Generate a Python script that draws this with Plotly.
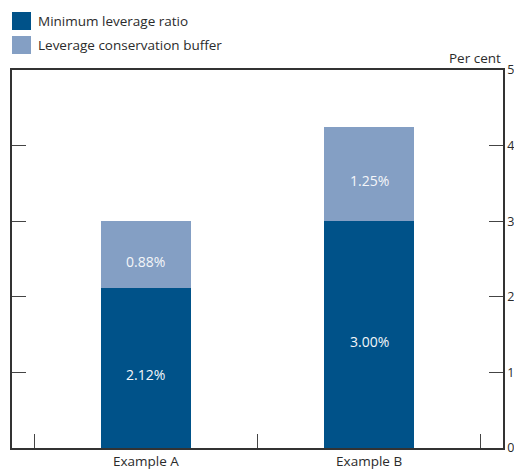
import plotly.graph_objects as go

categories = ["Example A", "Example B"]
minimum_ratio = [2.12, 3.00]
conservation_buffer = [0.88, 1.25]
series_names = ["Minimum leverage ratio", "Leverage conservation buffer"]
y_ticks = [0, 1, 2, 3, 4, 5]

DARK = "#005289"
LIGHT = "#849FC4"
FONT = "Open Sans, Noto Sans, sans-serif"
TXT = "#2b2b2b"

PW, PH = 491, 378  # plot area size in px

fig = go.Figure()
fig.add_trace(go.Bar(x=categories, y=minimum_ratio, name=series_names[0],
                     marker=dict(color=DARK, line=dict(width=0)), width=0.4))
fig.add_trace(go.Bar(x=categories, y=conservation_buffer, name=series_names[1],
                     marker=dict(color=LIGHT, line=dict(width=0)), width=0.4))

# value labels
for c, a, b in zip(categories, minimum_ratio, conservation_buffer):
    fig.add_annotation(x=c, y=a / 2, text=f"{a:.2f}%", showarrow=False, yshift=-7,
                       font=dict(color="#f4f6f9", size=14, family=FONT), xref="x", yref="y")
    fig.add_annotation(x=c, y=a + b / 2, text=f"{b:.2f}%", showarrow=False, yshift=-7,
                       font=dict(color="#f4f6f9", size=14, family=FONT), xref="x", yref="y")

# custom legend
for i, (name, col) in enumerate(zip(series_names, [DARK, LIGHT])):
    y0 = 12 + i * 24
    fig.add_shape(type="rect", xref="paper", yref="paper",
                  x0=0, x1=19 / PW, y0=1 + (70 - y0) / PH, y1=1 + (70 - y0 - 18) / PH,
                  fillcolor=col, line=dict(width=0))
    fig.add_annotation(xref="paper", yref="paper", x=24 / PW, y=1 + (70 - y0 - 9) / PH,
                       text=name, showarrow=False, xanchor="left", yanchor="middle",
                       font=dict(size=13.5, color=TXT, family=FONT))

fig.add_annotation(xref="paper", yref="paper", x=1, y=1, yshift=1, text="Per cent",
                   showarrow=False, xanchor="right", yanchor="bottom",
                   font=dict(size=13.5, color=TXT, family=FONT))

fig.update_layout(
    barmode="stack",
    width=514, height=462,
    margin=dict(l=4, r=19, t=62, b=22, autoexpand=False),
    paper_bgcolor="white", plot_bgcolor="white",
    showlegend=False,
    font=dict(family=FONT, color=TXT, size=13),
    xaxis=dict(type="category", range=[-0.6, 1.6], tickson="boundaries",
               ticks="inside", ticklen=14, tickcolor="#444", tickwidth=1.3,
               showline=True, linecolor="#333", linewidth=1.5, mirror=True,
               showgrid=False, zeroline=False, tickfont=dict(size=13.5, color=TXT),
               automargin=False),
    yaxis=dict(range=[0, 5], tickvals=y_ticks, side="right",
               ticks="inside", ticklen=14, tickcolor="#444", tickwidth=1.3,
               showline=True, linecolor="#333", linewidth=1.5, mirror="ticks",
               showgrid=False, zeroline=False, tickfont=dict(size=12.5, color=TXT),
               automargin=False),
)

fig.write_html("out.html")
